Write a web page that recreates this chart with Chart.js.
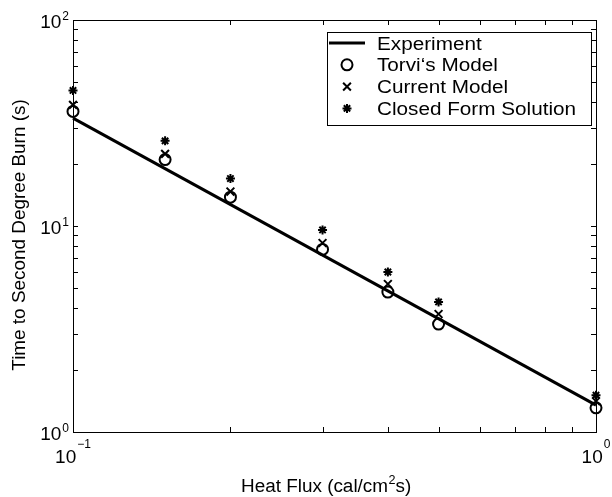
<!DOCTYPE html>
<html>
<head>
<meta charset="utf-8">
<script src="https://cdn.jsdelivr.net/npm/chart.js@4/dist/chart.umd.min.js"></script>
<style>
html, body { margin: 0; padding: 0; background: #fff; }
#wrap { width: 612px; height: 497px; }
</style>
</head>
<body>
<div id="wrap"><canvas id="chart" width="612" height="497"></canvas></div>
<script>
// heat flux in cal/cm^2 s, times in s
const heatFlux = [0.1, 0.15, 0.2, 0.3, 0.4, 0.5, 1.0];
const experimentFlux = [0.1, 1.0];
const experimentTime = [33.4, 1.35];
const torviTime = [36.0, 21.0, 13.8, 7.7, 4.78, 3.34, 1.31];
const currentTime = [38.7, 22.4, 14.7, 8.27, 5.23, 3.74, 1.41];
const closedTime = [45.5, 25.9, 17.0, 9.57, 5.98, 4.28, 1.51];

const seriesLabels = ["Experiment", "Torvi\u2018s Model", "Current Model", "Closed Form Solution"];

const xMajorTicks = [0.1, 1];
const xMajorExps = ["\u22121", "0"];
const xMinorTicks = [0.2, 0.3, 0.4, 0.5, 0.6, 0.7, 0.8, 0.9];
const yMajorTicks = [1, 10, 100];
const yMajorExps = ["0", "1", "2"];
const yMinorTicks = [2, 3, 4, 5, 6, 7, 8, 9, 20, 30, 40, 50, 60, 70, 80, 90];

const FONT = '"Liberation Sans", Arial, Helvetica, sans-serif';

function toPoints(xs, ys) {
    return xs.map((x, i) => ({ x: x, y: ys[i] }));
}

// text with a horizontal stretch, drawn at baseline
function stretchedText(ctx, text, x, y, size, sx, align) {
    ctx.save();
    ctx.font = size + "px " + FONT;
    const w = ctx.measureText(text).width * sx;
    let x0 = x;
    if (align === "center") x0 = x - w / 2;
    if (align === "right") x0 = x - w;
    ctx.translate(x0, y);
    ctx.scale(sx, 1);
    ctx.textAlign = "left";
    ctx.textBaseline = "alphabetic";
    ctx.fillText(text, 0, 0);
    ctx.restore();
    return w;
}

const framePlugin = {
    id: "frame",
    afterDatasetsDraw(chart) {
        const ctx = chart.ctx;
        const a = chart.chartArea;
        const xs = chart.scales.x;
        const ys = chart.scales.y;
        ctx.save();
        ctx.strokeStyle = "#000";
        ctx.lineWidth = 1;
        ctx.strokeRect(Math.round(a.left) + 0.5, Math.round(a.top) + 0.5,
            Math.round(a.right - a.left), Math.round(a.bottom - a.top));

        ctx.beginPath();
        xMinorTicks.forEach(v => {
            const px = Math.round(xs.getPixelForValue(v)) + 0.5;
            ctx.moveTo(px, a.bottom); ctx.lineTo(px, a.bottom - 5);
            ctx.moveTo(px, a.top); ctx.lineTo(px, a.top + 5);
        });
        yMinorTicks.concat([10]).forEach(v => {
            const py = Math.round(ys.getPixelForValue(v)) + 0.5;
            ctx.moveTo(a.left, py); ctx.lineTo(a.left + 5, py);
            ctx.moveTo(a.right, py); ctx.lineTo(a.right - 5, py);
        });
        ctx.stroke();

        // tick labels 10^n
        ctx.fillStyle = "#000";
        xMajorTicks.forEach((v, i) => {
            const px = xs.getPixelForValue(v);
            ctx.font = "19px " + FONT;
            const wb = ctx.measureText("10").width;
            ctx.font = "12px " + FONT;
            const we = ctx.measureText(xMajorExps[i]).width;
            const x0 = px - (wb + 1 + we) / 2;
            stretchedText(ctx, "10", x0, a.bottom + 31, 19, 1, "left");
            stretchedText(ctx, xMajorExps[i], x0 + wb + 1, a.bottom + 16, 12, 1, "left");
        });
        yMajorTicks.forEach((v, i) => {
            const py = ys.getPixelForValue(v);
            ctx.font = "12px " + FONT;
            const we = ctx.measureText(yMajorExps[i]).width;
            const xr = a.left - 4;
            stretchedText(ctx, yMajorExps[i], xr - we, py, 12, 1, "left");
            stretchedText(ctx, "10", xr - we - 1, py + 8, 19, 1, "right");
        });

        // axis titles
        let x = 241;
        const by = 492;
        x += stretchedText(ctx, "Heat Flux (cal/cm", x, by, 18, 1.05, "left");
        x += stretchedText(ctx, "2", x + 0.5, by - 8, 12, 1.05, "left") + 0.5;
        stretchedText(ctx, "s)", x, by, 18, 1.05, "left");

        ctx.save();
        ctx.translate(25, 235);
        ctx.rotate(-Math.PI / 2);
        stretchedText(ctx, "Time to Second Degree Burn (s)", 0, 0, 18, 1.05, "center");
        ctx.restore();
        ctx.restore();
    }
};

const legendPlugin = {
    id: "boxLegend",
    afterDraw(chart) {
        const ctx = chart.ctx;
        const left = 327, top = 32, right = 591, bottom = 125;
        ctx.save();
        ctx.fillStyle = "#fff";
        ctx.fillRect(left, top, right - left, bottom - top);
        ctx.strokeStyle = "#000";
        ctx.lineWidth = 1;
        ctx.strokeRect(left + 0.5, top + 0.5, right - left, bottom - top);

        chart.data.datasets.forEach((ds, i) => {
            const cy = 43 + i * 21.8;
            ctx.strokeStyle = "#000";
            if (ds.showLine) {
                ctx.lineWidth = ds.borderWidth;
                ctx.beginPath();
                ctx.moveTo(329, cy);
                ctx.lineTo(365, cy);
                ctx.stroke();
            } else {
                ctx.lineWidth = ds.borderWidth;
                ctx.fillStyle = "rgba(0,0,0,0)";
                Chart.helpers.drawPoint(ctx, {
                    pointStyle: ds.pointStyle,
                    radius: ds.pointRadius,
                    rotation: 0,
                    borderWidth: ds.borderWidth
                }, 347, cy);
            }
            ctx.fillStyle = "#000";
            stretchedText(ctx, ds.label, 377, cy + 6.5, 18, 1.15, "left");
        });
        ctx.restore();
    }
};

const chart = new Chart(document.getElementById("chart"), {
    type: "scatter",
    data: {
        datasets: [
            {
                label: seriesLabels[0],
                data: toPoints(experimentFlux, experimentTime),
                showLine: true,
                borderColor: "#000",
                borderWidth: 3,
                pointRadius: 0,
                clip: false
            },
            {
                label: seriesLabels[1],
                data: toPoints(heatFlux, torviTime),
                pointStyle: "circle",
                pointRadius: 5.5,
                borderWidth: 2,
                borderColor: "#000",
                backgroundColor: "rgba(0,0,0,0)",
                clip: false
            },
            {
                label: seriesLabels[2],
                data: toPoints(heatFlux, currentTime),
                pointStyle: "crossRot",
                pointRadius: 5.5,
                borderWidth: 2,
                borderColor: "#000",
                clip: false
            },
            {
                label: seriesLabels[3],
                data: toPoints(heatFlux, closedTime),
                pointStyle: "star",
                pointRadius: 4.5,
                borderWidth: 2,
                borderColor: "#000",
                clip: false
            }
        ]
    },
    options: {
        responsive: false,
        devicePixelRatio: 1,
        animation: false,
        events: [],
        layout: { padding: { left: 73, right: 16, top: 20, bottom: 65 } },
        scales: {
            x: { type: "logarithmic", min: 0.1, max: 1, display: false },
            y: { type: "logarithmic", min: 1, max: 100, display: false }
        },
        plugins: {
            legend: { display: false },
            tooltip: { enabled: false }
        }
    },
    plugins: [framePlugin, legendPlugin]
});
</script>
</body>
</html>
